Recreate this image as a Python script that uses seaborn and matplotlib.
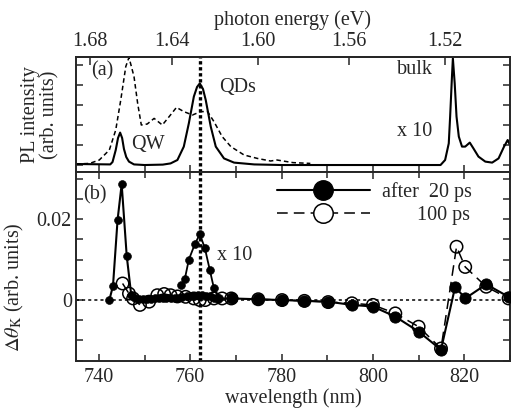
import numpy as np
import pandas as pd
import seaborn as sns
import matplotlib
matplotlib.use('Agg')
import matplotlib.pyplot as plt
from matplotlib.ticker import MultipleLocator, FixedLocator, FuncFormatter
from matplotlib.lines import Line2D

# PL spectra (top panel), arb. units
pl_solid_nm = [735, 742.5, 743.0, 743.7, 744.2, 744.66, 745.1, 745.5, 746.0, 746.6, 747.7, 750,
               754, 755.7, 757.2, 758.6, 759.7, 760.8, 761.5, 762.1, 762.8, 763.4, 764.5, 765.6,
               767.4, 769.6, 774, 780, 814.8, 815.8, 816.6, 816.9, 817.3, 817.5, 817.9, 818.3,
               818.8, 819.5, 820.2, 821.2, 822.0, 823.1, 824.6, 826.1, 827.5, 828.7, 829.5, 830]
pl_solid = [0.05, 0.03, 0.15, 0.75, 1.35, 1.62, 1.35, 0.8, 0.4, 0.17, 0.03, 0.0,
            0.02, 0.08, 0.25, 0.92, 2.08, 3.42, 3.9, 4.08, 3.8, 3.25, 1.92, 0.92,
            0.33, 0.12, 0.03, 0.0, 0.0, 0.25, 1.08, 2.42, 4.42, 5.33, 4.08, 2.42,
            1.42, 0.92, 0.92, 1.12, 0.83, 0.42, 0.17, 0.12, 0.33, 0.92, 1.25, 1.0]

pl_dash_nm = [735, 738, 740.1, 742.3, 743.7, 744.8, 745.9, 746.6, 747.7, 748.5, 749.3, 750.6,
              752.1, 753.9, 755.4, 757.0, 758.6, 760.5, 762.3, 763.8, 765.2, 767.0, 768.9,
              771.8, 774.7, 777.6, 779.0, 782.5, 786.3]
pl_dash = [0.05, 0.08, 0.25, 0.75, 1.75, 3.25, 4.92, 5.38, 4.42, 3.08, 2.0, 2.05,
           2.33, 2.0, 2.42, 2.88, 2.67, 2.5, 2.67, 2.67, 2.17, 1.42, 0.92,
           0.5, 0.33, 0.2, 0.25, 0.12, 0.08]

# Kerr rotation (bottom panel)
k20_nm = [742.3, 743.1, 744.1, 745.0, 746.1, 747.1, 747.9, 748.8, 749.6, 750.5, 751.4, 752.2,
          753.1, 754.0, 754.8, 755.7, 756.6, 757.4, 758.3, 759.2, 760.0, 760.9, 761.8, 762.6,
          763.5, 764.4, 765.2, 766.1, 769.1, 774.9, 780.1, 785.0, 790.2, 795.4, 800.0, 804.9,
          810.0, 814.9, 818.0, 820.2, 824.8, 829.7]
k20 = [0.0, 0.0035, 0.0198, 0.0287, 0.0110, 0.0012, 0.0004, 0.0003, 0.0002, 0.0003, 0.0003, 0.0004,
       0.0005, 0.0004, 0.0005, 0.0005, 0.0006, 0.0006, 0.0008, 0.0009, 0.0010, 0.0011, 0.0013, 0.0012,
       0.0011, 0.0009, 0.0006, 0.0003, 0.0004, 0.0002, 0.0000, -0.0002, -0.0004, -0.0012, -0.0016, -0.0041,
       -0.0078, -0.0123, 0.0033, 0.0004, 0.0039, 0.0008]

k20x10_nm = [757.9, 758.8, 759.7, 761.0, 762.1, 763.2, 764.3, 765.2, 766.2]
k20x10 = [0.0037, 0.0051, 0.0100, 0.0138, 0.0163, 0.0129, 0.0074, 0.0029, 0.0006]

k100_nm = [745.2, 746.6, 747.5, 749.0, 751.0, 752.8, 754.3, 755.7, 757.2, 759.0, 760.8, 762.1,
           763.3, 765.2, 767.0, 769.0, 774.9, 780.1, 785.0, 790.2, 795.4, 800.0, 804.9, 810.0,
           814.9, 818.3, 820.2, 824.8, 829.7]
k100 = [0.0041, 0.0016, 0.0004, -0.0012, -0.0004, 0.0012, 0.0015, 0.0012, 0.0009, 0.0008, 0.0004, 0.0,
        0.0, 0.0004, 0.0004, 0.0004, 0.0002, 0.0, -0.0002, -0.0005, -0.0008, -0.0012, -0.0033, -0.0066,
        -0.0120, 0.0132, 0.0082, 0.0033, 0.0004]

energy_ticks = [1.68, 1.64, 1.60, 1.56, 1.52]
qd_line = 762.1

sns.set_style('ticks')
plt.rcParams['font.family'] = ['Liberation Serif', 'DejaVu Serif']
plt.rcParams['mathtext.fontset'] = 'stix'
plt.rcParams['font.size'] = 14.5
plt.rcParams['axes.linewidth'] = 1.4

fig = plt.figure(figsize=(5.11, 4.15), dpi=100)
ax1 = fig.add_axes([0.1487, 0.5855, 0.8493, 0.2772])
ax2 = fig.add_axes([0.1487, 0.130, 0.8493, 0.4555])

# top panel
sns.lineplot(x=pl_dash_nm, y=pl_dash, ax=ax1, color='k', lw=1.1, ls=(0, (3, 2)),
             sort=False, estimator=None)
sns.lineplot(x=pl_solid_nm, y=pl_solid, ax=ax1, color='k', lw=1.5,
             sort=False, estimator=None)
ax1.axvline(qd_line, color='k', lw=2.4, ls=(0, (1, 0.8)))
ax1.set_xlim(735, 830)
ax1.set_ylim(-0.35, 5.4)
ax1.yaxis.set_major_locator(MultipleLocator(1))
ax1.set_yticklabels([])
ax1.xaxis.set_major_locator(MultipleLocator(20))
ax1.xaxis.set_minor_locator(MultipleLocator(10))
ax1.set_xticklabels([])
ax1.tick_params(which='both', direction='in', left=True, right=True, bottom=True, top=False,
                width=1.1)
ax1.tick_params(which='major', length=5)
ax1.tick_params(which='minor', length=4)
ax1.set_ylabel('PL intensity\n(arb. units)', linespacing=1.05)
ax1.yaxis.set_label_coords(-0.037, 0.5)

sec = ax1.secondary_xaxis('top', functions=(lambda x: 1239.84 / np.asarray(x, float),
                                            lambda e: 1239.84 / np.asarray(e, float)))
sec.xaxis.set_major_locator(FixedLocator(energy_ticks))
sec.xaxis.set_major_formatter(FuncFormatter(lambda v, p: f'{v:.2f}'))
sec.tick_params(direction='in', length=6, width=1.1, pad=4)
sec.set_xlabel('photon energy (eV)', labelpad=5)

ax1.text(740.7, 4.7, '(a)', ha='center', va='center')
ax1.text(750.8, 1.05, 'QW', ha='center', va='center')
ax1.text(770.3, 3.85, 'QDs', ha='center', va='center')
ax1.text(809.1, 4.75, 'bulk', ha='center', va='center')
ax1.text(809.1, 1.7, 'x 10', ha='center', va='center')

# bottom panel
ax2.axhline(0, color='k', lw=1.1, ls=(0, (2, 2)))
ax2.axvline(qd_line, color='k', lw=2.4, ls=(0, (1, 0.8)))

sns.lineplot(x=k100_nm, y=k100, ax=ax2, color='k', lw=1.1, ls=(0, (7, 4)),
             sort=False, estimator=None)
sns.scatterplot(x=k100_nm, y=k100, ax=ax2, marker='o', s=80, facecolor='none',
                edgecolor='k', linewidth=1.1, zorder=3)

sns.lineplot(x=k20_nm, y=k20, ax=ax2, color='k', lw=1.5, sort=False, estimator=None)
sns.lineplot(x=k20x10_nm, y=k20x10, ax=ax2, color='k', lw=1.3, sort=False, estimator=None)
small = [i for i, v in enumerate(k20_nm) if v < 768]
big = [i for i, v in enumerate(k20_nm) if v >= 768]
sns.scatterplot(x=[k20_nm[i] for i in small], y=[k20[i] for i in small], ax=ax2,
                marker='o', s=32, color='k', edgecolor='k', zorder=4)
sns.scatterplot(x=[k20_nm[i] for i in big], y=[k20[i] for i in big], ax=ax2,
                marker='o', s=65, color='k', edgecolor='k', zorder=4)
sns.scatterplot(x=k20x10_nm, y=k20x10, ax=ax2, marker='o', s=32, color='k',
                edgecolor='k', zorder=4)

ax2.set_xlim(735, 830)
ax2.set_ylim(-0.0151, 0.0317)
ax2.xaxis.set_major_locator(MultipleLocator(20))
ax2.xaxis.set_minor_locator(MultipleLocator(10))
ax2.yaxis.set_major_locator(MultipleLocator(0.005))
ax2.yaxis.set_major_formatter(FuncFormatter(
    lambda v, p: '0' if abs(v) < 1e-9 else ('0.02' if abs(v - 0.02) < 1e-9 else '')))
ax2.tick_params(which='both', direction='in', left=True, right=True, bottom=True, top=True,
                width=1.1)
ax2.tick_params(which='major', length=5, pad=5)
ax2.tick_params(axis='y', which='major', pad=3)
ax2.tick_params(which='minor', length=4)
ax2.set_xlabel('wavelength (nm)', labelpad=1)
ax2.set_ylabel(r'$\Delta\theta_{\rm K}$ (arb. units)')
ax2.yaxis.set_label_coords(-0.115, 0.39)

ax2.text(739.1, 0.026, '(b)', ha='center', va='center')
ax2.text(769.7, 0.0111, 'x 10', ha='center', va='center')

handles = [Line2D([], [], color='k', lw=1.5, marker='o', markersize=14,
                  markerfacecolor='k', markeredgecolor='k'),
           Line2D([], [], color='k', lw=1.1, ls=(0, (7, 4)), marker='o', markersize=14,
                  markerfacecolor='white', markeredgecolor='k', markeredgewidth=1.1)]
ax2.legend(handles, ['after  20 ps', '       100 ps'], loc='upper left',
           bbox_to_anchor=(0.463, 0.945), frameon=False, borderpad=0, borderaxespad=0,
           handlelength=4.6, handletextpad=0.6, labelspacing=0.2)

for a in (ax1, ax2):
    for s in a.spines.values():
        s.set_linewidth(1.4)

fig.savefig('out.png', dpi=100)
